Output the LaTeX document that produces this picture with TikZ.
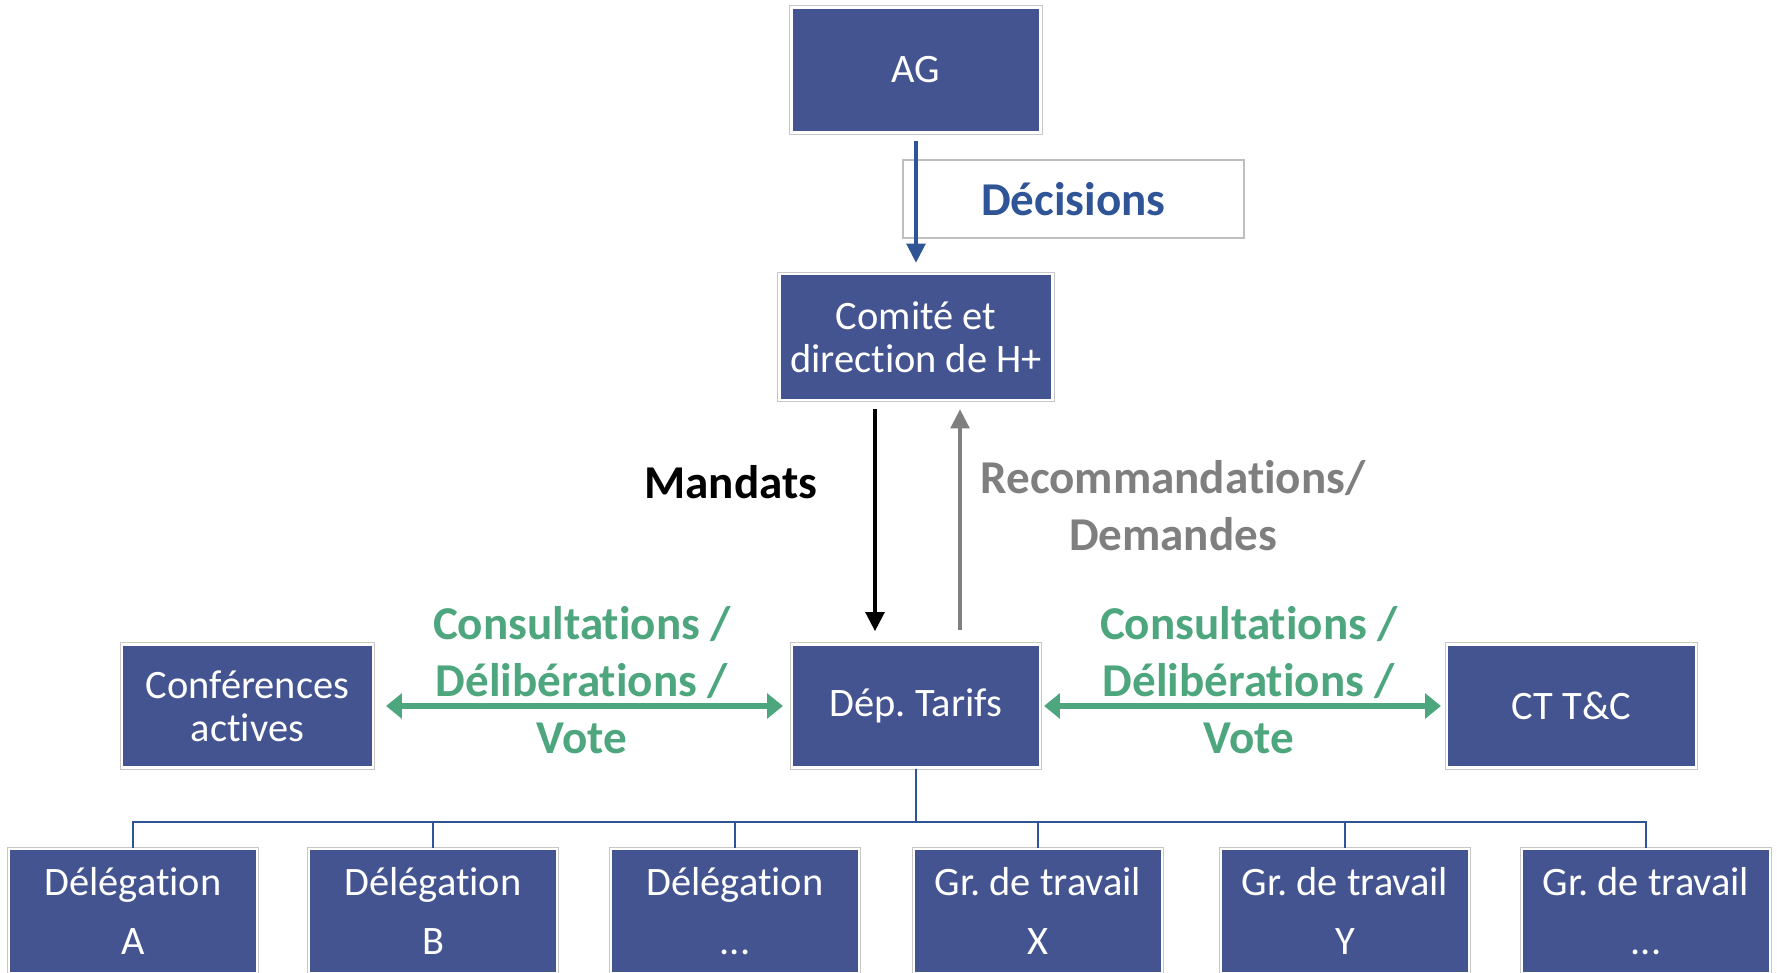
\documentclass[tikz,border=0pt]{standalone}
\usepackage{fontspec}
\setmainfont{Carlito}[Ligatures={NoCommon,NoContextual}, Contextuals=NoAlternate]
\usepackage{tikz}
\usetikzlibrary{positioning,arrows.meta}

\definecolor{boxblue}{RGB}{68,84,145}
\definecolor{arrowblue}{RGB}{47,85,151}
\definecolor{recgray}{RGB}{127,127,127}
\definecolor{votegreen}{RGB}{77,166,125}

\tikzset{
  orgbox/.style={rectangle, fill=boxblue, draw=white, line width=0.6pt, text=white, align=center, inner sep=0pt,
    minimum width=2.48cm, minimum height=1.23cm, font=\fontsize{11.5}{12.2}\selectfont,
    preaction={draw=black!22, line width=1.2pt}},
  lowbox/.style={orgbox, minimum height=1.24cm, font=\fontsize{11.5}{17}\selectfont},
  lbl/.style={align=center, inner sep=0pt, font=\fontsize{13.4}{16.2}\selectfont\bfseries},
  tree/.style={draw=arrowblue, line width=0.8pt},
  flow/.style={line width=1.3pt, -{Triangle[width=5.2pt,length=5.5pt]}},
  vote/.style={votegreen, line width=1.7pt, {Triangle[width=7pt,length=4.5pt]}-{Triangle[width=7pt,length=4.5pt]}},
}

\frenchspacing
\begin{document}
\begin{tikzpicture}
			\useasboundingbox (0,0) rectangle (17.77,-9.73);

			\node[orgbox, minimum width=2.49cm, minimum height=1.25cm] (ag) at (9.16,-0.70) {AG};
			\node[orgbox, below of=ag, node distance=2.67cm, minimum width=2.73cm, minimum height=1.26cm] (comite) {Comité et\\direction de H+};
			\node[orgbox, below of=comite, node distance=3.69cm] (dep) {Dép. Tarifs};
			\node[orgbox, left of=dep, node distance=6.685cm, minimum width=2.51cm] (conf) {Conférences\\actives};
			\node[orgbox, right of=dep, node distance=6.555cm, minimum width=2.49cm] (ct) {CT T\&C};

			\node[lowbox] (dela) at (1.33,-9.11) {Délégation\\A};
			\node[lowbox, right of=dela, node distance=3.0cm] (delb) {Délégation\\B};
			\node[lowbox, right of=delb, node distance=3.02cm] (delc) {Délégation\\...};
			\node[lowbox, right of=delc, node distance=3.03cm] (grx) {Gr. de travail\\X};
			\node[lowbox, right of=grx, node distance=3.07cm] (gry) {Gr. de travail\\Y};
			\node[lowbox, right of=gry, node distance=3.01cm] (grz) {Gr. de travail\\...};

			\node[lbl, text=arrowblue, draw=black!25, fill=white, line width=0.4pt, minimum width=3.41cm, minimum height=0.78cm] (decisions) at (10.735,-1.99) {Décisions};
			\path [flow, draw=arrowblue, fill=arrowblue, shorten <=0.07cm, shorten >=0.1cm] (ag) -- (comite);

			\path [flow, draw=black, fill=black, shorten <=0.08cm, shorten >=0.12cm] ([xshift=-0.41cm]comite.south) -- ([xshift=-0.41cm]dep.north);
			\path [flow, draw=recgray, fill=recgray, shorten <=0.13cm, shorten >=0.08cm] ([xshift=0.44cm]dep.north) -- ([xshift=0.44cm]comite.south);
			\node[lbl] (mandats) at (7.31,-4.82) {Mandats};
			\node[lbl, text=recgray] (reco) at (11.73,-5.06) {Recommandations/\\Demandes};

			\draw [vote, shorten <=0.08cm, shorten >=0.12cm] (dep.west) -- (conf.east);
			\draw [vote, shorten <=0.03cm, shorten >=0.05cm] (dep.east) -- (ct.west);
			\node[lbl, text=votegreen] (votel) at (5.82,-6.80) {Consultations /\\Délibérations /\\Vote};
			\node[lbl, text=votegreen] (voter) at (12.49,-6.80) {Consultations /\\Délibérations /\\Vote};

			\draw [tree] (dep.south) -- ++(0,-0.535) -| (dela.north);
			\draw [tree] (dep.south) -- ++(0,-0.535) -| (delb.north);
			\draw [tree] (dep.south) -- ++(0,-0.535) -| (delc.north);
			\draw [tree] (dep.south) -- ++(0,-0.535) -| (grx.north);
			\draw [tree] (dep.south) -- ++(0,-0.535) -| (gry.north);
			\draw [tree] (dep.south) -- ++(0,-0.535) -| (grz.north);
		\end{tikzpicture}
\end{document}
